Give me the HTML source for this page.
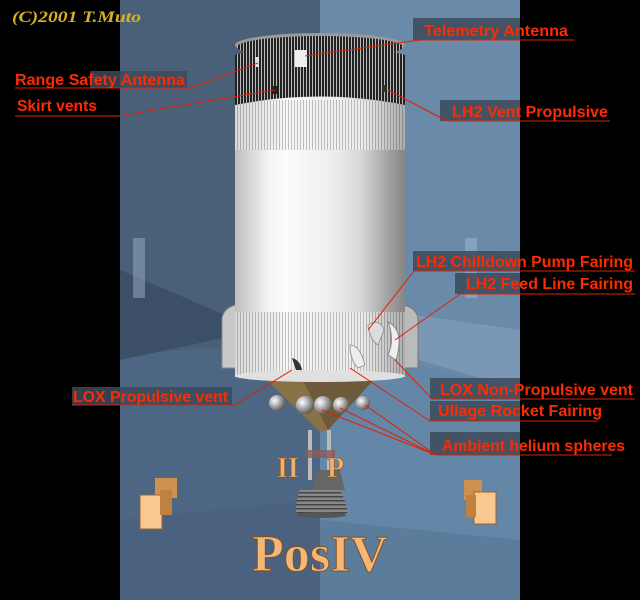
<!DOCTYPE html>
<html><head><meta charset="utf-8"><style>
html,body{margin:0;padding:0;background:#000;width:640px;height:600px;overflow:hidden}
svg{display:block}
.l{font-family:"Liberation Sans",sans-serif;font-size:16px;fill:#ff2a00;font-weight:bold}
</style></head><body>
<svg width="640" height="600" viewBox="0 0 640 600" xmlns="http://www.w3.org/2000/svg">
<defs>
<linearGradient id="body" x1="0" x2="1" y1="0" y2="0">
<stop offset="0" stop-color="#d8d8d8"/><stop offset="0.2" stop-color="#ffffff"/><stop offset="0.6" stop-color="#f2f2f2"/><stop offset="1" stop-color="#bdbdbd"/></linearGradient>
<pattern id="ribs" width="3" height="10" patternUnits="userSpaceOnUse"><rect width="3" height="10" fill="#f6f6f6"/><rect width="1" height="10" fill="#c0c0c0"/></pattern>
<pattern id="dribs" width="3" height="10" patternUnits="userSpaceOnUse"><rect width="3" height="10" fill="#222"/><rect width="1" height="10" fill="#bbb"/></pattern>
<linearGradient id="shade" x1="0" x2="1"><stop offset="0" stop-color="#000" stop-opacity="0.12"/><stop offset="0.3" stop-color="#000" stop-opacity="0"/><stop offset="0.75" stop-color="#000" stop-opacity="0.04"/><stop offset="1" stop-color="#000" stop-opacity="0.3"/></linearGradient>
<radialGradient id="sph" cx="0.35" cy="0.35" r="0.7"><stop offset="0" stop-color="#fff"/><stop offset="0.6" stop-color="#999"/><stop offset="1" stop-color="#555"/></radialGradient>
<pattern id="noz" width="10" height="4" patternUnits="userSpaceOnUse"><rect width="10" height="4" fill="#888"/><rect width="10" height="1.5" fill="#444"/></pattern>
</defs>
<rect width="640" height="600" fill="#000"/>
<rect x="120" y="0" width="200" height="600" fill="#4a6079"/>
<rect x="320" y="0" width="200" height="600" fill="#6a8aaa"/>
<polygon points="120,355 320,340 320,600 120,600" fill="#4c6684"/>
<polygon points="120,270 260,330 120,360" fill="#3b4f66"/>
<polygon points="320,340 520,390 520,600 320,600" fill="#6587a7"/>
<polygon points="380,310 520,330 520,390 420,360" fill="#7a98b5"/>
<polygon points="120,520 320,500 320,600 120,600" fill="#4a6280"/>
<polygon points="320,520 520,540 520,600 320,600" fill="#5c7c9c"/>
<rect x="133" y="238" width="12" height="60" fill="#8aa0b8" opacity="0.6"/>
<rect x="465" y="238" width="12" height="60" fill="#a0b8cc" opacity="0.5"/>
<path d="M222,318 Q224,308 236,305 L236,368 L222,368 Z" fill="#c8c8c8" stroke="#888"/>
<path d="M418,318 Q416,308 404,305 L404,368 L418,368 Z" fill="#bbb" stroke="#777"/>
<polygon points="262,375 378,375 328,430 320,432" fill="#8a7248"/>
<polygon points="300,375 378,375 328,430" fill="#6d5a3a"/>
<rect x="235" y="95" width="170" height="220" fill="url(#body)"/>
<rect x="235" y="100" width="170" height="50" fill="url(#ribs)"/>
<rect x="235" y="312" width="170" height="65" fill="url(#ribs)"/>
<rect x="235" y="95" width="170" height="282" fill="url(#shade)"/>
<ellipse cx="320" cy="376" rx="85" ry="6" fill="#e0e0e0"/>
<path d="M235,55 Q320,28 405,55 L405,105 Q320,88 235,105 Z" fill="url(#dribs)"/>
<ellipse cx="320" cy="45" rx="85" ry="12" fill="#999"/>
<ellipse cx="320" cy="47" rx="83" ry="11" fill="url(#dribs)"/>
<rect x="295" y="50" width="12" height="17" fill="#eee"/>
<rect x="255" y="57" width="4" height="10" fill="#ddd"/>
<rect x="273" y="86" width="4" height="8" fill="#222"/>
<rect x="383" y="85" width="3" height="7" fill="#333"/>
<path d="M368,325 Q380,318 384,330 L378,345 Q370,340 368,325 Z" fill="#ddd" stroke="#999"/>
<path d="M388,322 Q405,330 396,360 L388,355 Q395,340 388,322 Z" fill="#eee" stroke="#888"/>
<path d="M350,345 Q360,345 365,365 L358,368 Q350,360 350,345Z" fill="#eee" stroke="#999"/>
<path d="M292,358 Q300,360 302,370 L296,370 Z" fill="#333"/>
<circle cx="277" cy="403" r="8" fill="url(#sph)"/>
<circle cx="305" cy="405" r="9" fill="url(#sph)"/>
<circle cx="323" cy="405" r="9" fill="url(#sph)"/>
<circle cx="341" cy="405" r="8" fill="url(#sph)"/>
<circle cx="363" cy="403" r="7" fill="url(#sph)"/>
<rect x="308" y="430" width="4" height="50" fill="#bbb"/>
<rect x="327" y="430" width="4" height="50" fill="#bbb"/>
<rect x="305" y="450" width="30" height="8" fill="#8a5a5a" opacity="0.8"/>
<path d="M318,470 L340,470 L345,490 L312,490 Z" fill="#666"/>
<path d="M300,490 L340,490 Q348,505 347,515 L296,515 Q295,503 300,490 Z" fill="url(#noz)"/>
<ellipse cx="321" cy="515" rx="25" ry="3" fill="#555"/>
<text x="277" y="477" font-family="Liberation Serif,serif" font-weight="bold" font-size="28" fill="#f0b070" stroke="#8a5020" stroke-width="0.6">II</text>
<text x="327" y="477" font-family="Liberation Serif,serif" font-weight="bold" font-size="28" fill="#f0b070" stroke="#8a5020" stroke-width="0.6">P</text>
<rect x="155" y="478" width="22" height="20" fill="#d09050"/>
<rect x="140" y="495" width="22" height="34" fill="#f8c890" stroke="#a06030"/>
<rect x="160" y="490" width="12" height="25" fill="#c08040"/>
<rect x="464" y="480" width="18" height="20" fill="#d09050"/>
<rect x="474" y="492" width="22" height="32" fill="#f8c890" stroke="#a06030"/>
<rect x="466" y="495" width="10" height="22" fill="#c08040"/>
<text x="252" y="571" font-family="Liberation Serif,serif" font-weight="bold" font-size="52" fill="#f3b878" stroke="#8a5020" stroke-width="1" textLength="136" lengthAdjust="spacingAndGlyphs">PosIV</text>
<text x="12" y="22" font-family="Liberation Serif,serif" font-style="italic" font-weight="bold" font-size="16" fill="#d8b028" textLength="129" lengthAdjust="spacingAndGlyphs">(C)2001 T.Muto</text>
<g fill="#3c4a5a" opacity="0.85">
<rect x="413" y="18" width="107" height="22"/>
<rect x="90" y="71" width="97" height="17"/>
<rect x="440" y="100" width="80" height="21"/>
<rect x="413" y="251" width="107" height="20"/>
<rect x="455" y="273" width="65" height="21"/>
<rect x="72" y="387" width="160" height="18"/>
<rect x="430" y="378" width="90" height="21"/>
<rect x="430" y="401" width="90" height="20"/>
<rect x="430" y="432" width="90" height="23"/>
</g>
<g stroke="#e02000" stroke-width="1" fill="none">
<path d="M420,40 L575,40 M420,40 L305,56"/>
<path d="M15,88 L190,88 L258,63"/>
<path d="M15,116 L118,116 L275,90"/>
<path d="M447,121 L610,121 M447,121 L388,90"/>
<path d="M414,271 L635,271 M414,271 L368,330"/>
<path d="M460,294 L635,294 M460,294 L395,340"/>
<path d="M72,405 L235,405 L292,370"/>
<path d="M432,399 L635,399 M432,399 L395,360"/>
<path d="M430,421 L598,421 M430,421 L350,368"/>
<path d="M436,455 L612,455 M436,455 L322,410 M436,455 L340,408 M436,455 L365,405"/>
</g>
<text class="l" x="424" y="36" textLength="144" lengthAdjust="spacingAndGlyphs">Telemetry Antenna</text>
<text class="l" x="15" y="85" textLength="170" lengthAdjust="spacingAndGlyphs">Range Safety Antenna</text>
<text class="l" x="17" y="111" textLength="80" lengthAdjust="spacingAndGlyphs">Skirt vents</text>
<text class="l" x="452" y="117" textLength="156" lengthAdjust="spacingAndGlyphs">LH2 Vent Propulsive</text>
<text class="l" x="416" y="267" textLength="217" lengthAdjust="spacingAndGlyphs">LH2 Chilldown Pump Fairing</text>
<text class="l" x="466" y="289" textLength="167" lengthAdjust="spacingAndGlyphs">LH2 Feed Line Fairing</text>
<text class="l" x="73" y="402" textLength="155" lengthAdjust="spacingAndGlyphs">LOX Propulsive vent</text>
<text class="l" x="440" y="395" textLength="193" lengthAdjust="spacingAndGlyphs">LOX Non-Propulsive vent</text>
<text class="l" x="438" y="416" textLength="164" lengthAdjust="spacingAndGlyphs">Ullage Rocket Fairing</text>
<text class="l" x="442" y="451" textLength="183" lengthAdjust="spacingAndGlyphs">Ambient helium spheres</text>
</svg>
</body></html>
